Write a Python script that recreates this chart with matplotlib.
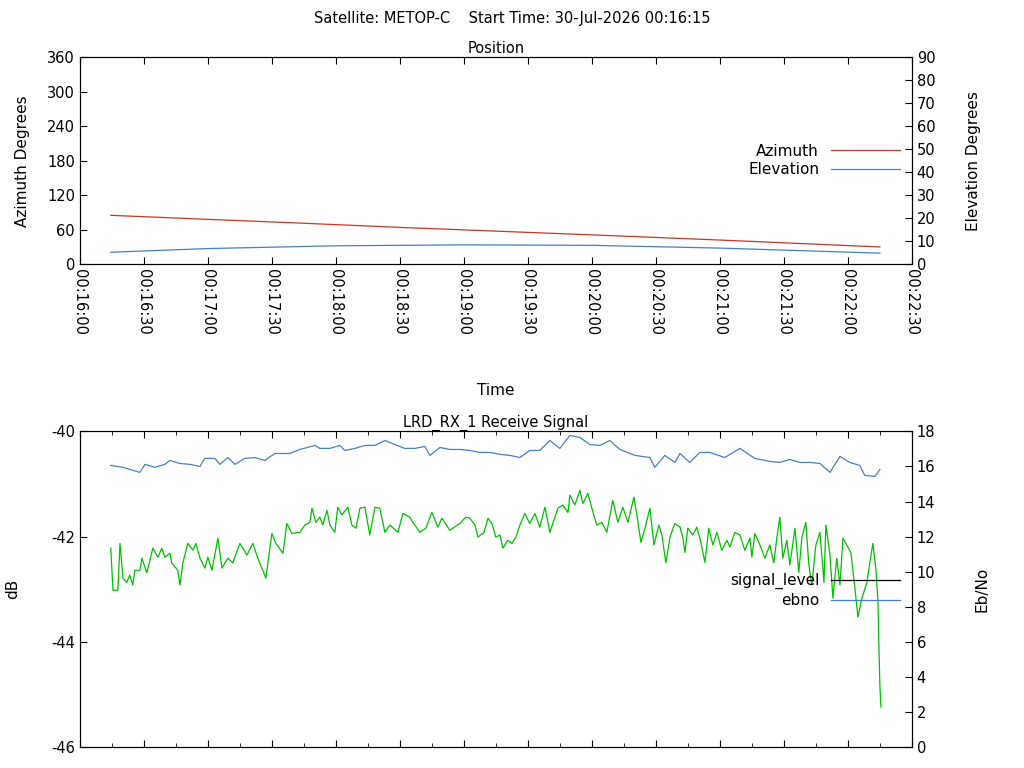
import matplotlib
matplotlib.use("Agg")
import matplotlib.pyplot as plt
from matplotlib.ticker import MultipleLocator, FuncFormatter

# seconds after 00:16:00
pos_t = [14.5, 60, 100, 150, 195, 240, 300, 375]
azimuth = [85, 78, 72, 64, 57.5, 51, 42, 30]
elev_t = [14.5, 60, 120, 180, 240, 300, 375]
elevation = [5.2, 6.8, 8.0, 8.4, 8.2, 7.0, 4.8]

sig_t = [14.5, 15.5, 17.8, 18.8, 20.2, 22.0, 23.4, 24.8, 25.8, 28.1, 29.1, 31.4, 34.2, 36.6,
         38.4, 39.8, 42.2, 43.1, 45.9, 46.9, 48.3, 50.6, 53.0, 54.4, 56.3, 58.6, 60.0, 61.9,
         64.7, 66.6, 69.4, 71.7, 75.0, 78.3, 81.1, 83.4, 85.3, 87.2, 90.0, 91.9, 95.2, 97.0,
         99.4, 103.1, 105.5, 107.8, 108.8, 110.6, 112.5, 113.9, 115.8, 117.2, 119.5, 120.9,
         122.8, 125.6, 127.5, 129.4, 131.3, 133.6, 135.9, 138.3, 140.6, 143.0, 145.3, 149.1,
         151.4, 154.7, 156.1, 159.4, 162.2, 165.0, 167.8, 169.7, 173.4, 178.1, 180.9, 182.8,
         185.2, 186.6, 189.4, 191.3, 193.1, 195.0, 196.9, 198.3, 200.6, 202.5, 204.4, 206.3,
         208.6, 210.9, 213.3, 215.6, 218.0, 220.3, 224.1, 226.4, 228.8, 229.7, 232.0, 234.4,
         235.8, 238.1, 240.0, 242.3, 244.7, 247.0, 249.8, 252.2, 254.5, 256.9, 259.7, 261.1,
         263.0, 265.3, 267.2, 269.1, 271.4, 272.8, 274.7, 276.6, 278.9, 281.3, 282.7, 283.6,
         285.0, 287.3, 289.2, 291.1, 293.0, 294.8, 296.7, 298.6, 300.9, 303.3, 304.7, 307.0,
         309.4, 311.7, 314.1, 315.0, 316.4, 318.8, 321.1, 323.4, 325.3, 326.7, 328.1, 329.5,
         331.4, 332.8, 335.2, 337.0, 338.4, 340.3, 341.7, 343.1, 345.0, 346.9, 348.8, 349.7,
         351.6, 353.0, 354.8, 356.3, 357.7, 359.5, 361.4, 363.3, 364.7, 366.6, 368.9, 371.7,
         373.1, 374.1, 374.5, 375.0, 375.5]
signal_level = [-42.22, -43.02, -43.02, -42.13, -42.79, -42.87, -42.73, -42.92, -42.64, -42.64,
                -42.41, -42.69, -42.22, -42.39, -42.22, -42.39, -42.32, -42.50, -42.64, -42.92,
                -42.50, -42.13, -42.26, -42.13, -42.41, -42.60, -42.39, -42.64, -42.03, -42.60,
                -42.41, -42.50, -42.13, -42.35, -42.13, -42.41, -42.60, -42.79, -41.94, -42.13,
                -42.32, -41.75, -41.94, -41.92, -41.78, -41.73, -41.46, -41.73, -41.63, -41.78,
                -41.50, -41.78, -41.92, -41.44, -41.59, -41.44, -41.78, -41.84, -41.46, -41.44,
                -41.97, -41.44, -41.46, -41.92, -41.78, -41.92, -41.56, -41.63, -41.73, -41.92,
                -41.84, -41.54, -41.82, -41.65, -41.88, -41.75, -41.63, -41.65, -41.78, -42.01,
                -41.92, -41.65, -41.75, -42.01, -41.97, -42.22, -42.07, -42.13, -42.01, -41.78,
                -41.56, -41.75, -41.56, -41.82, -41.44, -41.92, -41.46, -41.40, -41.54, -41.21,
                -41.40, -41.12, -41.37, -41.18, -41.46, -41.78, -41.73, -41.92, -41.31, -41.73,
                -41.44, -41.73, -41.25, -41.59, -42.11, -41.78, -41.46, -42.16, -41.78, -41.97,
                -42.50, -42.01, -41.75, -41.82, -42.03, -42.30, -41.84, -41.97, -41.82, -42.11,
                -42.49, -41.84, -42.16, -41.92, -42.26, -42.07, -42.20, -41.92, -41.97, -42.26,
                -42.03, -42.39, -41.94, -42.16, -42.41, -42.16, -42.50, -42.03, -41.63, -42.41,
                -42.07, -42.54, -41.84, -42.68, -42.03, -41.73, -42.54, -42.92, -42.16, -41.92,
                -42.87, -41.78, -42.35, -43.17, -42.41, -42.92, -42.03, -42.16, -42.30, -42.98,
                -43.53, -43.17, -42.87, -42.13, -42.60, -43.21, -44.00, -44.82, -45.24]

ebno_t = [14.5, 20.2, 28.1, 30.5, 35.2, 39.8, 42.2, 46.9, 51.6, 56.3, 58.6, 63.3, 65.6, 69.4,
          72.7, 77.3, 82.0, 86.7, 91.4, 98.4, 103.1, 110.2, 112.5, 117.2, 121.9, 124.2, 128.9,
          133.6, 138.3, 143.0, 147.7, 152.3, 157.0, 161.7, 164.1, 168.8, 173.4, 178.1, 182.8,
          187.5, 192.2, 196.9, 201.6, 206.3, 210.9, 215.6, 220.3, 225.0, 229.7, 234.4, 239.1,
          243.8, 248.4, 253.1, 260.2, 267.2, 269.5, 274.2, 278.9, 281.3, 285.9, 290.6, 295.3,
          302.3, 309.4, 316.4, 323.4, 328.1, 332.8, 337.5, 342.2, 346.9, 351.6, 356.3, 360.9,
          365.6, 367.9, 372.7, 375.0]
ebno = [16.06, 15.95, 15.66, 16.12, 15.95, 16.12, 16.34, 16.17, 16.12, 16.0, 16.46, 16.46,
        16.12, 16.51, 16.12, 16.46, 16.51, 16.34, 16.74, 16.74, 16.97, 17.2, 17.03, 17.03,
        17.2, 16.91, 17.03, 17.2, 17.2, 17.48, 17.25, 17.03, 17.03, 17.14, 16.63, 17.08,
        16.97, 16.97, 16.91, 16.8, 16.8, 16.69, 16.63, 16.51, 16.91, 16.91, 17.48, 17.03,
        17.77, 17.65, 17.25, 17.2, 17.48, 16.97, 16.63, 16.51, 15.95, 16.63, 16.23, 16.74,
        16.23, 16.8, 16.8, 16.51, 17.03, 16.46, 16.29, 16.23, 16.4, 16.23, 16.23, 16.17,
        15.66, 16.57, 16.23, 16.06, 15.49, 15.43, 15.83]

RED = "#c0392b"
BLUE = "#4a7fc1"
GREEN = "#00c000"
FS = 10.5

plt.rcParams["font.family"] = "DejaVu Sans"
plt.rcParams["font.size"] = FS
plt.rcParams["axes.unicode_minus"] = False

fig = plt.figure(figsize=(10.24, 7.68), dpi=100)
fig.text(0.5, 0.976, "Satellite: METOP-C    Start Time: 30-Jul-2026 00:16:15",
         ha="center", va="center", fontsize=FS)


def hms(v, pos):
    s = int(round(v)) + 16 * 60
    return f"00:{s // 60:02d}:{s % 60:02d}"


def style(ax):
    ax.tick_params(direction="in", which="both", top=True, labelsize=FS)
    ax.tick_params(which="major", length=5)
    ax.tick_params(which="minor", length=3)


# position panel
ax1 = fig.add_axes([0.078, 0.656, 0.8125, 0.2695])
ax1.plot(pos_t, azimuth, color=RED, lw=0.9, label="Azimuth")
ax1.plot([], [], color=BLUE, lw=0.9, label="Elevation")
ax1.set_xlim(0, 390)
ax1.set_ylim(0, 360)
ax1.yaxis.set_major_locator(MultipleLocator(60))
ax1.xaxis.set_major_locator(MultipleLocator(30))
ax1.xaxis.set_major_formatter(FuncFormatter(hms))
plt.setp(ax1.get_xticklabels(), rotation=-90)
ax1.set_ylabel("Azimuth Degrees", fontsize=11, labelpad=12)
ax1.set_xlabel("Time", fontsize=11, labelpad=34)
ax1.set_title("Position", fontsize=FS, pad=3)
style(ax1)
ax1r = ax1.twinx()
ax1r.plot(elev_t, elevation, color=BLUE, lw=0.9)
ax1r.set_ylim(0, 90)
ax1r.yaxis.set_major_locator(MultipleLocator(10))
ax1r.set_ylabel("Elevation Degrees", fontsize=11, labelpad=22)
ax1r.tick_params(direction="in", length=5, labelsize=FS)
ax1.legend(loc="upper right", bbox_to_anchor=(0.995, 0.62), frameon=False, markerfirst=False,
           handlelength=4.5, fontsize=11, borderpad=0, labelspacing=0.25)

# receive signal panel
ax2 = fig.add_axes([0.078, 0.0273, 0.8125, 0.411])
ax2.plot(sig_t, signal_level, color=GREEN, lw=0.9)
ax2.plot([], [], color="black", lw=0.9, label="signal_level")
ax2.plot([], [], color=BLUE, lw=0.9, label="ebno")
ax2.set_xlim(0, 390)
ax2.set_ylim(-46, -40)
ax2.yaxis.set_major_locator(MultipleLocator(2))
ax2.xaxis.set_major_locator(MultipleLocator(30))
ax2.xaxis.set_minor_locator(MultipleLocator(15))
ax2.set_xticklabels([])
ax2.set_ylabel("dB", fontsize=11, labelpad=22)
ax2.set_title("LRD_RX_1 Receive Signal", fontsize=FS, pad=3)
style(ax2)
ax2r = ax2.twinx()
ax2r.plot(ebno_t, ebno, color=BLUE, lw=0.9)
ax2r.set_ylim(0, 18)
ax2r.yaxis.set_major_locator(MultipleLocator(2))
ax2r.set_ylabel("Eb/No", fontsize=11, labelpad=28)
ax2r.tick_params(direction="in", length=5, labelsize=FS)
ax2.legend(loc="upper right", bbox_to_anchor=(0.995, 0.575), frameon=False, markerfirst=False,
           handlelength=4.5, fontsize=11, borderpad=0, labelspacing=0.25)

fig.savefig("out.png", dpi=100)
